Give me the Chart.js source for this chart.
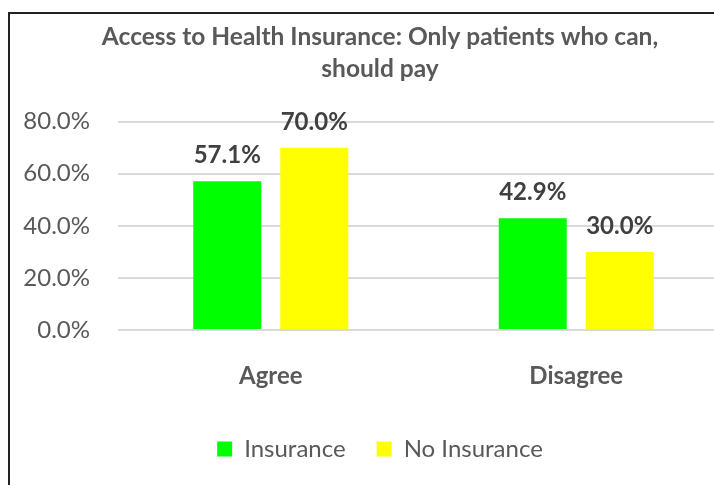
<!DOCTYPE html>
<html>
<head>
<meta charset="utf-8">
<script src="https://cdn.jsdelivr.net/npm/chart.js@4/dist/chart.umd.min.js"></script>
<style>
  html, body { margin: 0; padding: 0; background: #fff; overflow: hidden; width: 714px; height: 485px; }
  #wrap { position: absolute; left: 0; top: 0; width: 760px; height: 471px; }
  #frame { position: absolute; left: 8px; top: 12px; width: 800px; height: 600px;
           border-left: 2px solid #222; border-top: 2px solid #222; pointer-events: none; }
</style>
</head>
<body>
<div id="wrap"><canvas id="c" width="760" height="471"></canvas></div>
<div id="frame"></div>
<script>
const categories = ['Agree', 'Disagree'];
const insurance = [57.1, 42.9];
const noInsurance = [70.0, 30.0];
const yTicks = [0, 20, 40, 60, 80];

const FONT = 'Lato, "Open Sans", sans-serif';
const GREY = '#595959';

// Bold value printed above each bar
const valueLabels = {
  id: 'valueLabels',
  afterDatasetsDraw(chart) {
    const ctx = chart.ctx;
    ctx.save();
    ctx.font = 'bold 24px ' + FONT;
    ctx.fillStyle = '#404040';
    ctx.textAlign = 'center';
    ctx.textBaseline = 'alphabetic';
    chart.data.datasets.forEach((ds, di) => {
      chart.getDatasetMeta(di).data.forEach((bar, i) => {
        ctx.fillText(ds.data[i].toFixed(1) + '%', bar.x, bar.y - 18);
      });
    });
    ctx.restore();
  }
};

new Chart(document.getElementById('c'), {
  type: 'bar',
  data: {
    labels: categories,
    datasets: [
      { label: 'Insurance', data: insurance, backgroundColor: '#00ff00' },
      { label: 'No Insurance', data: noInsurance, backgroundColor: '#ffff00' }
    ]
  },
  options: {
    responsive: false,
    animation: false,
    devicePixelRatio: 1,
    categoryPercentage: 0.5696,
    barPercentage: 0.7816,
    layout: { padding: 0 },
    plugins: {
      title: {
        display: true,
        text: ['Access to Health Insurance: Only patients who can,', 'should pay'],
        color: GREY,
        font: { family: FONT, size: 24.5, weight: 'bold', lineHeight: 1.32 },
        padding: { top: 21, bottom: 36 }
      },
      legend: {
        position: 'bottom',
        labels: {
          color: GREY,
          font: { family: FONT, size: 24 },
          boxWidth: 15,
          boxHeight: 15,
          padding: 31
        }
      },
      tooltip: { enabled: false }
    },
    scales: {
      x: {
        grid: { display: false },
        border: { display: false },
        ticks: { color: GREY, font: { family: FONT, size: 24, weight: 'bold' }, padding: 23.5 },
        afterFit(scale) { scale.height = 76; }
      },
      y: {
        min: 0,
        max: 80,
        grid: { color: '#d9d9d9', lineWidth: 2, drawTicks: false },
        border: { display: false },
        ticks: {
          stepSize: 20,
          padding: 28,
          color: GREY,
          font: { family: FONT, size: 24 },
          callback: (v) => yTicks.includes(v) ? v.toFixed(1) + '%' : null
        },
        afterFit(scale) { scale.width = 118; }
      },
      // empty strip on the right so the plot runs past the visible edge
      rightGutter: {
        type: 'linear',
        position: 'right',
        grid: { display: false, drawOnChartArea: false },
        border: { display: false },
        ticks: { display: false },
        afterFit(scale) { scale.width = 31; }
      }
    }
  },
  plugins: [valueLabels]
});
</script>
</body>
</html>
